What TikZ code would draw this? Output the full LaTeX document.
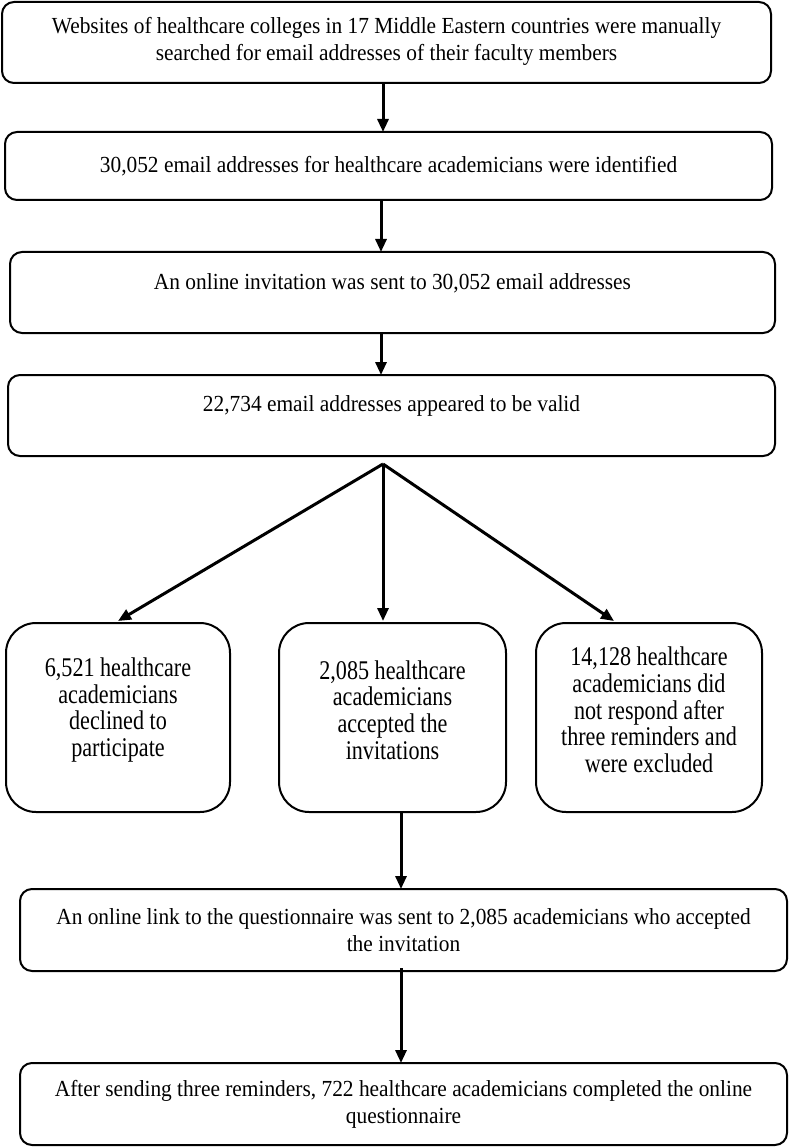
\documentclass[tikz,border=0pt]{standalone}
\usepackage{fontspec}
\setmainfont{Liberation Serif}
\newfontfamily\wideboxfont[FakeStretch=0.93]{Liberation Serif}
\newfontfamily\smallboxfont[FakeStretch=0.82]{Liberation Serif}
\usetikzlibrary{arrows.meta}
\begin{document}
\begin{tikzpicture}[x=1pt,y=-1pt,
  wbox/.style={draw,line width=2pt,rounded corners=12pt},
  sbox/.style={draw,line width=2pt,rounded corners=30pt},
  txt/.style={align=center,font=\wideboxfont\fontsize{23}{27}\selectfont,inner sep=0pt},
  stxt/.style={align=center,font=\smallboxfont\fontsize{27}{26.7}\selectfont,inner sep=0pt},
  flow/.style={line width=3pt,-{Triangle[width=11pt,length=13pt]}}]
\useasboundingbox (0,0) rectangle (789,1147);
\fill[white] (0,0) rectangle (789,1147);
% boxes
\draw[wbox] (2,2) rectangle (771,83);
\node[txt] (t1) at (386.5,41.5) {Websites of healthcare colleges in 17 Middle Eastern countries were manually\\searched for email addresses of their faculty members};
\draw[wbox] (5,132) rectangle (772,200);
\node[txt] (t2) at (388.5,166) {30,052 email addresses for healthcare academicians were identified};
\draw[wbox] (10,252) rectangle (775,333);
\node[txt] (t3) at (392.5,283) {An online invitation was sent to 30,052 email addresses};
\draw[wbox] (8,375) rectangle (775,456);
\node[txt] (t4) at (391.5,406) {22,734 email addresses appeared to be valid};
\draw[sbox] (6,623) rectangle (230,812);
\node[stxt] (tL) at (118,710) {6,521 healthcare\\academicians\\declined to\\participate};
\draw[sbox] (279,623) rectangle (506,812);
\node[stxt] (tM) at (392.5,710) {2,085 healthcare\\academicians\\accepted the\\invitations};
\draw[sbox] (536,623) rectangle (762,812);
\node[stxt] (tR) at (649,710) {14,128 healthcare\\academicians did\\not respond after\\three reminders and\\were excluded};
\draw[wbox] (20,889) rectangle (787,971);
\node[txt] (t5) at (403.5,930) {An online link to the questionnaire was sent to 2,085 academicians who accepted\\the invitation};
\draw[wbox] (20,1063) rectangle (787,1145);
\node[txt] (t6) at (403.5,1104) {After sending three reminders, 722 healthcare academicians completed the online\\questionnaire};
% connector points
\coordinate (c1a) at (383,83);  \coordinate (c1b) at (383,132);
\coordinate (c2a) at (381,200); \coordinate (c2b) at (381,252);
\coordinate (c3a) at (381,333); \coordinate (c3b) at (381,375);
\coordinate (apex) at (383,464);
\coordinate (pL) at (118,621);
\coordinate (pM) at (383,621);
\coordinate (pR) at (614,621);
\coordinate (c5a) at (401,812); \coordinate (c5b) at (401,889);
\coordinate (c6a) at (401,968); \coordinate (c6b) at (401,1063);
\draw[flow] (c1a) -- (c1b);
\draw[flow] (c2a) -- (c2b);
\draw[flow] (c3a) -- (c3b);
\draw[flow] (apex) -- (pL);
\draw[flow] (apex) -- (pM);
\draw[flow] (apex) -- (pR);
\draw[flow] (c5a) -- (c5b);
\draw[flow] (c6a) -- (c6b);
\end{tikzpicture}
\end{document}
